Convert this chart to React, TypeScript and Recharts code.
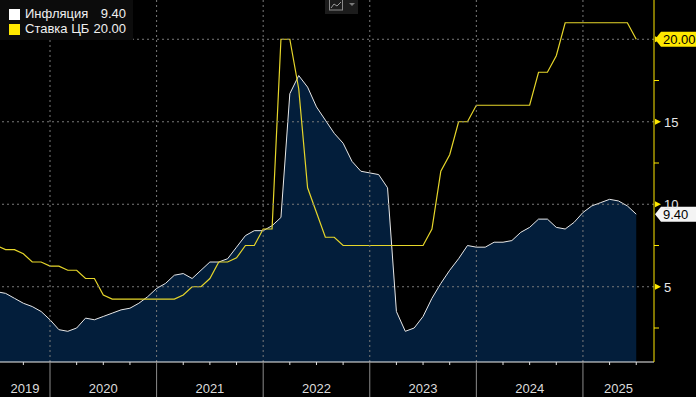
import React from "react";
import { ComposedChart, Area, Line, XAxis, YAxis, ReferenceLine } from "recharts";

const months = [
  "2019-06", "2019-07", "2019-08", "2019-09", "2019-10", "2019-11", "2019-12",
  "2020-01", "2020-02", "2020-03", "2020-04", "2020-05", "2020-06", "2020-07", "2020-08", "2020-09", "2020-10", "2020-11", "2020-12",
  "2021-01", "2021-02", "2021-03", "2021-04", "2021-05", "2021-06", "2021-07", "2021-08", "2021-09", "2021-10", "2021-11", "2021-12",
  "2022-01", "2022-02", "2022-03", "2022-04", "2022-05", "2022-06", "2022-07", "2022-08", "2022-09", "2022-10", "2022-11", "2022-12",
  "2023-01", "2023-02", "2023-03", "2023-04", "2023-05", "2023-06", "2023-07", "2023-08", "2023-09", "2023-10", "2023-11", "2023-12",
  "2024-01", "2024-02", "2024-03", "2024-04", "2024-05", "2024-06", "2024-07", "2024-08", "2024-09", "2024-10", "2024-11", "2024-12",
  "2025-01", "2025-02", "2025-03", "2025-04", "2025-05", "2025-06",
];

const inflation = [
  4.7, 4.6, 4.3, 4.0, 3.8, 3.5, 3.0,
  2.4, 2.3, 2.5, 3.1, 3.0, 3.2, 3.4, 3.6, 3.7, 4.0, 4.4, 4.9,
  5.2, 5.7, 5.8, 5.5, 6.0, 6.5, 6.5, 6.7, 7.4, 8.1, 8.4, 8.4,
  8.7, 9.2, 16.7, 17.8, 17.1, 15.9, 15.1, 14.3, 13.7, 12.6, 12.0, 11.9,
  11.8, 11.0, 3.5, 2.3, 2.5, 3.2, 4.3, 5.2, 6.0, 6.7, 7.5, 7.4,
  7.4, 7.7, 7.7, 7.8, 8.3, 8.6, 9.1, 9.1, 8.6, 8.5, 8.9, 9.5,
  9.9, 10.1, 10.3, 10.2, 9.9, 9.4,
];

const keyRate = [
  7.5, 7.25, 7.25, 7.0, 6.5, 6.5, 6.25,
  6.25, 6.0, 6.0, 5.5, 5.5, 4.5, 4.25, 4.25, 4.25, 4.25, 4.25, 4.25,
  4.25, 4.25, 4.5, 5.0, 5.0, 5.5, 6.5, 6.5, 6.75, 7.5, 7.5, 8.5,
  8.5, 20, 20, 17, 11, 9.5, 8, 8, 7.5, 7.5, 7.5, 7.5,
  7.5, 7.5, 7.5, 7.5, 7.5, 7.5, 8.5, 12, 13, 15, 15, 16,
  16, 16, 16, 16, 16, 16, 18, 18, 19, 21, 21, 21,
  21, 21, 21, 21, 21, 20,
];

const yearLabels = ["2019", "2020", "2021", "2022", "2023", "2024", "2025"];
const yTicks = [2.5, 5, 7.5, 10, 12.5, 15, 17.5, 20];
const yMajor = [5, 10, 15, 20];

const SERIES_NAMES = ["Инфляция", "Ставка ЦБ"];

const X_MIN = 6.37;
const X_MAX = 80;
const Y_MIN = 0.44;
const Y_MAX = 22.38;

const FONT = "'Liberation Sans', Arial, sans-serif";
const YELLOW = "#ffe800";
const LINE_YELLOW = "#e6d62a";
const AREA_FILL = "#031e3b";
const GRID = "#7a7a7a";

const toX = (m: string) => {
  const [y, mo] = m.split("-").map(Number);
  return (y - 2019) * 12 + mo; // end-of-month position, months since Jan 2019
};

const data = months.map((m, i) => ({ t: toX(m), inflation: inflation[i], rate: keyRate[i] }));

const yearStarts = yearLabels.map((y) => (Number(y) - 2019) * 12);
const yearBoundaries = yearStarts.filter((v) => v > X_MIN && v < X_MAX);
const quarterTicks: number[] = [];
for (let q = Math.ceil(X_MIN / 3) * 3; q <= X_MAX - 1; q += 3) quarterTicks.push(q);
const yearCenters = yearStarts.map((s) => (Math.max(s, X_MIN) + Math.min(s + 12, X_MAX)) / 2);

const lastInfl = inflation[inflation.length - 1];
const lastRate = keyRate[keyRate.length - 1];
const badgeValues = [lastRate, lastInfl];

const QuarterTick = (props: any) => {
  const { x, y, payload } = props;
  const isYear = payload.value % 12 === 0;
  if (isYear) return <line x1={x} x2={x} y1={y} y2={y + 35} stroke="#8c8c8c" strokeWidth={1} />;
  return <line x1={x} x2={x} y1={y} y2={y + 3} stroke="#e0e0e0" strokeWidth={1} />;
};

const YearLabel = (props: any) => {
  const { viewBox, text } = props;
  if (!viewBox) return null;
  return (
    <text
      x={viewBox.x}
      y={viewBox.y + viewBox.height + 31}
      textAnchor="middle"
      fill="#dcdcdc"
      fontSize={13}
      fontFamily={FONT}
    >
      {text}
    </text>
  );
};

const YTick = (props: any) => {
  const { x, y, payload } = props;
  const v = payload.value;
  if (yMajor.includes(v)) {
    const covered = badgeValues.some((b) => Math.abs(b - v) < 0.3);
    return (
      <g>
        <polygon points={`${x + 1},${y - 3} ${x + 7},${y} ${x + 1},${y + 3}`} fill={YELLOW} />
        {!covered && (
          <text x={x + 10} y={y + 5} fill="#e6e6e6" fontSize={13} fontFamily={FONT}>
            {String(v)}
          </text>
        )}
      </g>
    );
  }
  return <line x1={x} x2={x + 5} y1={y} y2={y} stroke={YELLOW} strokeWidth={1} />;
};

const Badge = (props: any) => {
  const { viewBox, text, bg } = props;
  if (!viewBox) return null;
  const x0 = viewBox.x + viewBox.width + 1;
  const y = viewBox.y;
  const right = x0 + 60;
  return (
    <g>
      <polygon
        points={`${x0},${y} ${x0 + 6},${y - 7.5} ${right},${y - 7.5} ${right},${y + 7.5} ${x0 + 6},${y + 7.5}`}
        fill={bg}
      />
      <text x={x0 + 8} y={y + 5} fill="#000" fontSize={13} fontFamily={FONT}>
        {text}
      </text>
    </g>
  );
};

export default function App() {
  return (
    <div style={{ position: "absolute", left: 0, top: 0, width: 696, height: 397, background: "#000", overflow: "hidden" }}>
      <ComposedChart width={696} height={397} data={data} margin={{ top: 0, right: 0, bottom: 0, left: 0 }}>
        <XAxis
          dataKey="t"
          type="number"
          domain={[X_MIN, X_MAX]}
          allowDataOverflow
          ticks={quarterTicks}
          tick={<QuarterTick />}
          tickLine={false}
          tickSize={0}
          tickMargin={0}
          height={35}
          axisLine={{ stroke: "#f0f0f0", strokeWidth: 1 }}
          interval={0}
        />
        <YAxis
          orientation="right"
          type="number"
          domain={[Y_MIN, Y_MAX]}
          allowDataOverflow
          ticks={yTicks}
          tick={<YTick />}
          tickLine={false}
          tickSize={0}
          tickMargin={0}
          width={42}
          axisLine={{ stroke: YELLOW, strokeWidth: 1 }}
          interval={0}
        />
        <Area
          type="linear"
          dataKey="inflation"
          stroke="#e8e8e8"
          strokeWidth={1}
          fill={AREA_FILL}
          fillOpacity={1}
          isAnimationActive={false}
          dot={false}
          activeDot={false}
        />
        <Line
          type="linear"
          dataKey="rate"
          stroke={LINE_YELLOW}
          strokeWidth={1.2}
          dot={false}
          activeDot={false}
          isAnimationActive={false}
        />
        {yMajor.map((v) => (
          <ReferenceLine key={"h" + v} y={v} stroke={GRID} strokeDasharray="2 3" strokeWidth={1} />
        ))}
        {yearBoundaries.map((v) => (
          <ReferenceLine key={"v" + v} x={v} stroke={GRID} strokeDasharray="2 3" strokeWidth={1} />
        ))}
        {yearCenters.map((c, i) => (
          <ReferenceLine key={"yl" + i} x={c} stroke="none" label={<YearLabel text={yearLabels[i]} />} />
        ))}
        <ReferenceLine y={lastRate} stroke="none" label={<Badge text={lastRate.toFixed(2)} bg={YELLOW} />} />
        <ReferenceLine y={lastInfl} stroke="none" label={<Badge text={lastInfl.toFixed(2)} bg="#f4f4f4" />} />
      </ComposedChart>

      <div
        style={{
          position: "absolute",
          left: 0,
          top: 0,
          width: 133,
          height: 40,
          background: "#0c0c0c",
          fontFamily: FONT,
          fontSize: 13,
          color: "#f0f0f0",
        }}
      >
        {[
          { name: SERIES_NAMES[0], value: lastInfl.toFixed(2), color: "#ffffff", top: 7 },
          { name: SERIES_NAMES[1], value: lastRate.toFixed(2), color: YELLOW, top: 22 },
        ].map((r) => (
          <div key={r.name} style={{ position: "absolute", left: 9, top: r.top, width: 117, height: 14, lineHeight: "14px" }}>
            <span style={{ position: "absolute", left: 0, top: 1.5, width: 11, height: 11, background: r.color }} />
            <span style={{ position: "absolute", left: 16, top: 0, whiteSpace: "nowrap" }}>{r.name}</span>
            <span style={{ position: "absolute", right: 0, top: 0 }}>{r.value}</span>
          </div>
        ))}
      </div>

      <svg style={{ position: "absolute", left: 325, top: 0 }} width={33} height={14}>
        <rect x={0} y={0} width={33} height={14} fill="#1c1c1c" />
        <rect x={4.5} y={-1} width={13} height={11} fill="none" stroke="#8a8a8a" strokeWidth={1} />
        <polyline points="6,8 9,4 12,6 16,2" fill="none" stroke="#9a9a9a" strokeWidth={1} />
        <polygon points="24,3 30,3 27,6" fill="#7a7a7a" />
      </svg>
    </div>
  );
}
